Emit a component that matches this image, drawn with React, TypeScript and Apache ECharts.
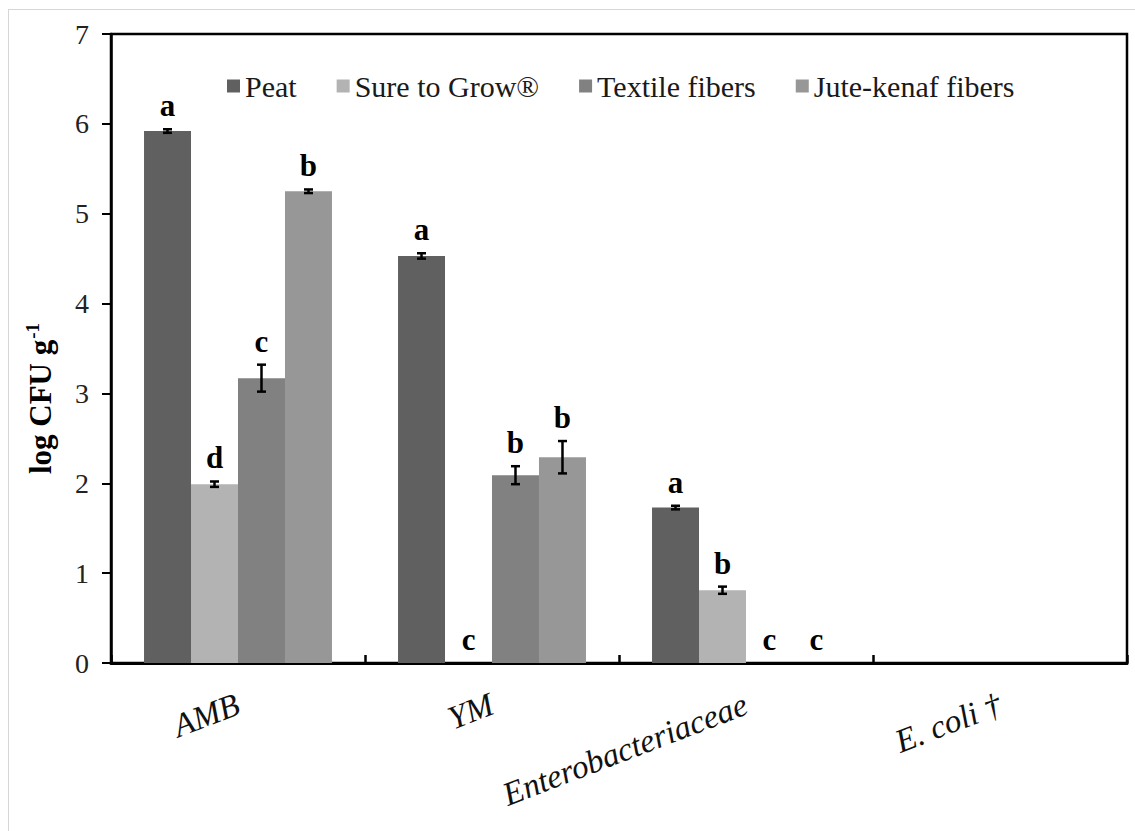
import React, { useEffect, useRef } from "react";
import * as echarts from "echarts";

const categories = ["AMB", "YM", "Enterobacteriaceae", "E. coli \u2020"];
const seriesNames = ["Peat", "Sure to Grow\u00AE", "Textile fibers", "Jute-kenaf fibers"];

const peat = [5.92, 4.53, 1.73, 0];
const sureToGrow = [1.99, 0, 0.81, 0];
const textileFibers = [3.17, 2.09, 0, 0];
const juteKenafFibers = [5.25, 2.29, 0, 0];

const peatErr = [0.02, 0.03, 0.02, 0];
const sureToGrowErr = [0.03, 0, 0.04, 0];
const textileFibersErr = [0.15, 0.1, 0, 0];
const juteKenafFibersErr = [0.02, 0.18, 0, 0];

const peatLetters = ["a", "a", "a", ""];
const sureToGrowLetters = ["d", "c", "b", ""];
const textileFibersLetters = ["c", "b", "c", ""];
const juteKenafFibersLetters = ["b", "b", "c", ""];

const yMin = 0;
const yMax = 7;
const yInterval = 1;

const colors = ["#606060", "#b3b3b3", "#818181", "#979797"];
const FONT = "Liberation Serif";
const GAP = 0.26;

const values = [peat, sureToGrow, textileFibers, juteKenafFibers];
const errors = [peatErr, sureToGrowErr, textileFibersErr, juteKenafFibersErr];
const letters = [peatLetters, sureToGrowLetters, textileFibersLetters, juteKenafFibersLetters];

function makeRender(si: number) {
  return (params: any, api: any) => {
    const ci = api.value(0);
    const v = api.value(1);
    const e = api.value(2);
    const base = api.coord([ci, v]);
    const band = api.size([1, 0])[0];
    const group = band * (1 - GAP);
    const bw = group / 4;
    const x = base[0] - group / 2 + bw * (si + 0.5);
    const yTop = api.coord([ci, v + e])[1];
    const yBot = api.coord([ci, v - e])[1];
    const cap = 4.5;
    const children: any[] = [];
    if (e > 0) {
      const st = { stroke: "#000", lineWidth: 2.5 };
      children.push({ type: "line", shape: { x1: x, y1: yTop, x2: x, y2: yBot }, style: st });
      children.push({ type: "line", shape: { x1: x - cap, y1: yTop, x2: x + cap, y2: yTop }, style: st });
      children.push({ type: "line", shape: { x1: x - cap, y1: yBot, x2: x + cap, y2: yBot }, style: st });
    }
    const letter = letters[si][params.dataIndex];
    if (letter) {
      children.push({
        type: "text",
        x,
        y: yTop - 8,
        style: {
          text: letter,
          fontSize: 31,
          fontWeight: "bold",
          fontFamily: FONT,
          fill: "#000",
          align: "center",
          verticalAlign: "bottom",
        },
      });
    }
    return { type: "group", children };
  };
}

export default function App() {
  const ref = useRef<HTMLDivElement>(null);
  useEffect(() => {
    if (!ref.current) return;
    const chart = echarts.init(ref.current, null, { renderer: "svg" });
    const barSeries = seriesNames.map((name, i) => ({
      name,
      type: "bar",
      data: values[i],
      barGap: "0%",
      barCategoryGap: `${GAP * 100}%`,
      itemStyle: { color: colors[i] },
      z: 2,
    }));
    const errSeries = seriesNames.map((name, i) => ({
      name: name + " error",
      type: "custom",
      renderItem: makeRender(i),
      data: values[i].map((v, k) => [k, v, errors[i][k]]),
      encode: { x: 0, y: 1 },
      z: 5,
      silent: true,
      clip: false,
    }));
    chart.setOption({
      animation: false,
      backgroundColor: "transparent",
      grid: {
        left: 111,
        right: 8,
        top: 34,
        bottom: 168,
        show: true,
        borderColor: "#000",
        borderWidth: 2.5,
        containLabel: false,
      },
      legend: {
        data: seriesNames,
        left: 222,
        top: 66,
        icon: "rect",
        itemWidth: 13,
        itemHeight: 13,
        itemGap: 40,
        selectedMode: false,
        textStyle: { fontFamily: FONT, fontSize: 30, color: "#1a1a1a" },
      },
      xAxis: {
        type: "category",
        data: categories,
        axisLine: { show: true, lineStyle: { color: "#000", width: 3 } },
        axisTick: { show: true, inside: true, length: 8, lineStyle: { color: "#000", width: 2.5 } },
        axisLabel: {
          rotate: 21,
          margin: 40,
          fontFamily: FONT,
          fontStyle: "italic",
          fontSize: 33,
          color: "#111",
          interval: 0,
        },
        splitLine: { show: false },
      },
      yAxis: {
        type: "value",
        min: yMin,
        max: yMax,
        interval: yInterval,
        name: "{t|log CFU g}{s|-1}",
        nameLocation: "middle",
        nameRotate: 90,
        nameGap: 54,
        nameTextStyle: {
          fontFamily: FONT,
          fontWeight: "bold",
          fontSize: 31,
          color: "#000",
          padding: [0, 100, 0, 0],
          rich: {
            t: { fontFamily: FONT, fontWeight: "bold", fontSize: 31, color: "#000" },
            s: {
              fontFamily: FONT,
              fontWeight: "bold",
              fontSize: 19,
              color: "#000",
              verticalAlign: "bottom",
              padding: [0, 0, 15, 1],
            },
          },
        },
        axisLine: { show: true, lineStyle: { color: "#000", width: 2.5 } },
        axisTick: { show: true, inside: false, length: 9, lineStyle: { color: "#000", width: 2 } },
        axisLabel: { margin: 22, fontFamily: FONT, fontSize: 28, color: "#222" },
        splitLine: { show: false },
      },
      series: [...barSeries, ...errSeries],
    });
    return () => chart.dispose();
  }, []);
  return (
    <div style={{ position: "fixed", left: 0, top: 0, width: 1135, height: 831, background: "#fff", overflow: "hidden" }}>
      <div
        style={{
          position: "absolute",
          left: 8,
          top: 9,
          width: 1200,
          height: 900,
          borderTop: "1px solid #d6d6d6",
          borderLeft: "1px solid #d6d6d6",
        }}
      />
      <div ref={ref} style={{ position: "absolute", left: 0, top: 0, width: 1135, height: 831 }} />
    </div>
  );
}
